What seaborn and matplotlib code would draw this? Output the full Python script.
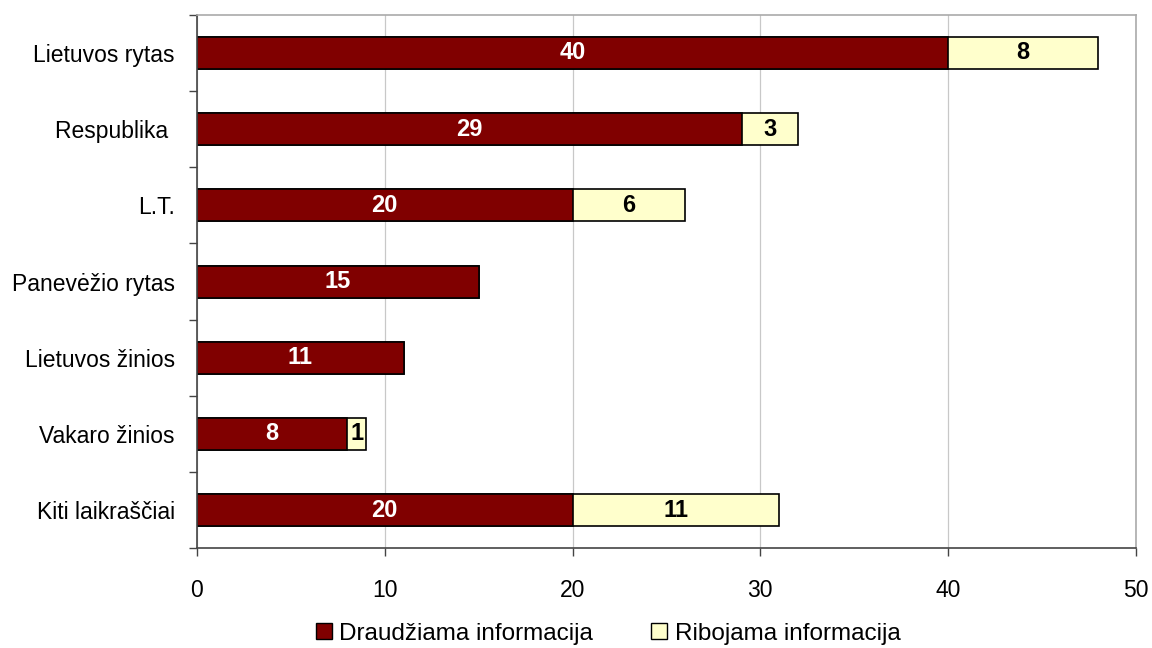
import numpy as np
import pandas as pd
import matplotlib
matplotlib.use('Agg')
import matplotlib.pyplot as plt
from matplotlib.patches import Patch
import seaborn as sns

# Data
newspapers = ['Lietuvos rytas', 'Respublika ', 'L.T.', 'Panevėžio rytas',
              'Lietuvos žinios', 'Vakaro žinios', 'Kiti laikraščiai']
forbidden = [40, 29, 20, 15, 11, 8, 20]   # Draudžiama informacija
restricted = [8, 3, 6, 0, 0, 1, 11]       # Ribojama informacija

df = pd.DataFrame({'newspaper': newspapers,
                   'forbidden': forbidden,
                   'restricted': restricted})
df['total'] = df['forbidden'] + df['restricted']

red = '#800000'
yellow = '#FFFFCC'

sns.set_style('white')
plt.rcParams['font.family'] = ['Liberation Sans', 'DejaVu Sans']
plt.rcParams['text.color'] = 'black'
plt.rcParams['xtick.color'] = 'black'
plt.rcParams['ytick.color'] = 'black'

fig = plt.figure(figsize=(11.52, 6.48), dpi=100)
ax = fig.add_axes([0.171, 0.154, 0.815, 0.823])

# stacked: total (yellow) underneath, forbidden (red) on top
sns.barplot(data=df, y='newspaper', x='total', color=yellow, orient='h',
            width=0.42, edgecolor='black', linewidth=1.2, saturation=1, ax=ax)
sns.barplot(data=df, y='newspaper', x='forbidden', color=red, orient='h',
            width=0.42, edgecolor='black', linewidth=1.2, saturation=1, ax=ax)

# value labels
for i, row in df.iterrows():
    ax.text(row['forbidden'] / 2, i, str(row['forbidden']), color='white',
            ha='center', va='center', fontsize=17, fontweight='bold')
    if row['restricted'] > 0:
        ax.text(row['forbidden'] + row['restricted'] / 2, i, str(row['restricted']),
                color='black', ha='center', va='center', fontsize=17, fontweight='bold')

ax.set_xlim(0, 50)
ax.set_ylim(len(newspapers) - 0.5, -0.5)
ax.set_xticks(np.arange(0, 51, 10))
ax.set_xlabel('')
ax.set_ylabel('')
ax.grid(axis='x', color='#c8c8c8', linewidth=0.9)
ax.set_axisbelow(True)

ax.set_yticks(np.arange(-0.5, len(newspapers), 1), minor=True)
ax.tick_params(axis='y', which='major', length=0, pad=16, labelsize=16.5, labelcolor='black')
ax.tick_params(axis='y', which='minor', length=6, width=1, color='#444444', direction='out', left=True)
ax.tick_params(axis='x', which='major', length=6, width=1, color='#444444', direction='out',
               bottom=True, pad=16, labelsize=16.5, labelcolor='black')

for side in ['left', 'bottom']:
    ax.spines[side].set_color('#444444')
    ax.spines[side].set_linewidth(1.2)
for side in ['top', 'right']:
    ax.spines[side].set_color('#aaaaaa')
    ax.spines[side].set_linewidth(1.2)

handles = [Patch(facecolor=red, edgecolor='black', label='Draudžiama informacija'),
           Patch(facecolor=yellow, edgecolor='black', label='Ribojama informacija')]
fig.legend(handles=handles, loc='center', bbox_to_anchor=(0.528, 0.022), ncol=2,
           frameon=False, fontsize=17.5, handlelength=0.65, handleheight=0.65,
           handletextpad=0.3, columnspacing=2.4)

fig.savefig('out.png', dpi=100)
